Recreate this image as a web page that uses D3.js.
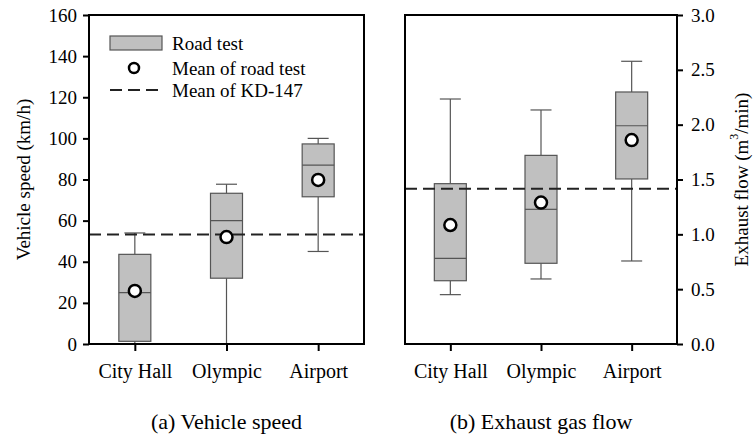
<!DOCTYPE html>
<html>
<head>
<meta charset="utf-8">
<script src="https://cdn.jsdelivr.net/npm/d3@7.9.0/dist/d3.min.js"></script>
<style>
  body { margin: 0; background: #fff; }
  svg { display: block; font-family: "Liberation Serif", "DejaVu Serif", serif; }
</style>
</head>
<body>
<svg id="chart" width="755" height="437"></svg>
<script>
// data
const categories = ["City Hall", "Olympic", "Airport"];

// (a) vehicle speed, km/h
const speedMin    = [0, 0, 45];
const speedQ1     = [1.3, 32, 71.6];
const speedMedian = [25, 60, 87];
const speedQ3     = [43.6, 73.3, 97.3];
const speedMax    = [54, 77.7, 100];
const speedMean   = [25.8, 52, 79.8];
const speedKD147  = 53.2;
const speedTicks  = [0, 20, 40, 60, 80, 100, 120, 140, 160];

// (b) exhaust flow, m3/min
const flowMin    = [0.45, 0.593, 0.757];
const flowQ1     = [0.577, 0.736, 1.505];
const flowMedian = [0.781, 1.228, 1.99];
const flowQ3     = [1.462, 1.72, 2.298];
const flowMax    = [2.234, 2.134, 2.578];
const flowMean   = [1.085, 1.29, 1.86];
const flowKD147  = 1.416;
const flowTicks  = [0, 0.5, 1.0, 1.5, 2.0, 2.5, 3.0];

const legendLabels = ["Road test", "Mean of road test", "Mean of KD-147"];

const svg = d3.select("#chart");
const plotTop = 15, plotBottom = 344;

function panel(opt) {
  const g = svg.append("g");
  const x = d3.scalePoint().domain(categories).range([opt.x0, opt.x1]).padding(0.5);
  const y = d3.scaleLinear().domain(opt.domain).range([plotBottom, plotTop]);

  const rows = categories.map((c, i) => ({
    c, min: opt.min[i], q1: opt.q1[i], med: opt.med[i], q3: opt.q3[i], max: opt.max[i], mean: opt.mean[i]
  }));

  const boxW = 32, capW = 21;
  const stroke = "#555";

  // whiskers
  const wk = g.append("g").attr("stroke", stroke).attr("stroke-width", 1.2);
  rows.forEach(d => {
    wk.append("line").attr("x1", x(d.c)).attr("x2", x(d.c)).attr("y1", y(d.q3)).attr("y2", y(d.max));
    wk.append("line").attr("x1", x(d.c)).attr("x2", x(d.c)).attr("y1", y(d.q1)).attr("y2", y(d.min));
    wk.append("line").attr("x1", x(d.c) - capW / 2).attr("x2", x(d.c) + capW / 2).attr("y1", y(d.max)).attr("y2", y(d.max));
    wk.append("line").attr("x1", x(d.c) - capW / 2).attr("x2", x(d.c) + capW / 2).attr("y1", y(d.min)).attr("y2", y(d.min));
  });

  // boxes
  g.selectAll("rect.box").data(rows).join("rect")
    .attr("class", "box")
    .attr("x", d => x(d.c) - boxW / 2)
    .attr("y", d => y(d.q3))
    .attr("width", boxW)
    .attr("height", d => y(d.q1) - y(d.q3))
    .attr("fill", "#c0c0c0")
    .attr("stroke", stroke)
    .attr("stroke-width", 1.2);

  g.selectAll("line.med").data(rows).join("line")
    .attr("class", "med")
    .attr("x1", d => x(d.c) - boxW / 2).attr("x2", d => x(d.c) + boxW / 2)
    .attr("y1", d => y(d.med)).attr("y2", d => y(d.med))
    .attr("stroke", stroke).attr("stroke-width", 1.2);

  // KD-147 mean
  g.append("line")
    .attr("x1", opt.x0).attr("x2", opt.x1)
    .attr("y1", y(opt.kd)).attr("y2", y(opt.kd))
    .attr("stroke", "#222").attr("stroke-width", 2)
    .attr("stroke-dasharray", "12,6");

  // means
  g.selectAll("circle.mean").data(rows).join("circle")
    .attr("class", "mean")
    .attr("cx", d => x(d.c)).attr("cy", d => y(d.mean))
    .attr("r", 6)
    .attr("fill", "#fff").attr("stroke", "#000").attr("stroke-width", 2.5);

  // frame
  g.append("rect")
    .attr("x", opt.x0).attr("y", plotTop)
    .attr("width", opt.x1 - opt.x0).attr("height", plotBottom - plotTop)
    .attr("fill", "none").attr("stroke", "#000").attr("stroke-width", 2);

  // axes
  const xa = g.append("g").attr("transform", `translate(0,${plotBottom})`)
    .call(d3.axisBottom(x).tickSize(7).tickPadding(13));
  xa.select(".domain").remove();
  xa.selectAll("line").attr("stroke", "#000").attr("stroke-width", 2);
  xa.selectAll("text").attr("font-size", 20).attr("fill", "#000")
    .attr("font-family", "Liberation Serif");

  const ya = opt.right
    ? g.append("g").attr("transform", `translate(${opt.x1},0)`)
        .call(d3.axisRight(y).tickValues(opt.ticks).tickFormat(d3.format(".1f")).tickSize(6).tickPadding(8))
    : g.append("g").attr("transform", `translate(${opt.x0},0)`)
        .call(d3.axisLeft(y).tickValues(opt.ticks).tickFormat(d3.format("d")).tickSize(6).tickPadding(6));
  ya.select(".domain").remove();
  ya.selectAll("line").attr("stroke", "#000").attr("stroke-width", 2);
  ya.selectAll("text").attr("font-size", 19).attr("fill", "#000")
    .attr("font-family", "Liberation Serif");

  // caption
  svg.append("text")
    .attr("x", (opt.x0 + opt.x1) / 2).attr("y", 429)
    .attr("text-anchor", "middle").attr("font-size", 22)
    .text(opt.caption);

  return { g, x, y };
}

panel({
  x0: 89, x1: 364, domain: [0, 160], ticks: speedTicks,
  min: speedMin, q1: speedQ1, med: speedMedian, q3: speedQ3, max: speedMax, mean: speedMean,
  kd: speedKD147, right: false, caption: "(a) Vehicle speed"
});

panel({
  x0: 405, x1: 677, domain: [0, 3], ticks: flowTicks,
  min: flowMin, q1: flowQ1, med: flowMedian, q3: flowQ3, max: flowMax, mean: flowMean,
  kd: flowKD147, right: true, caption: "(b) Exhaust gas flow"
});

// y labels
svg.append("text")
  .attr("transform", `translate(23,${(plotTop + plotBottom) / 2}) rotate(-90)`)
  .attr("text-anchor", "middle").attr("dominant-baseline", "central")
  .attr("font-size", 19)
  .text("Vehicle speed (km/h)");

const rl = svg.append("text")
  .attr("transform", `translate(741,${(plotTop + plotBottom) / 2}) rotate(-90)`)
  .attr("text-anchor", "middle").attr("dominant-baseline", "central")
  .attr("font-size", 19);
rl.append("tspan").text("Exhaust flow (m");
rl.append("tspan").attr("font-size", 12).attr("dy", -7).text("3");
rl.append("tspan").attr("dy", 7).text("/min)");

// legend
const lg = svg.append("g");
const legY = [43, 68, 90];
lg.append("rect").attr("x", 110).attr("y", 36).attr("width", 52).attr("height", 14)
  .attr("fill", "#c0c0c0").attr("stroke", "#555").attr("stroke-width", 1.2);
lg.append("circle").attr("cx", 134).attr("cy", legY[1]).attr("r", 5)
  .attr("fill", "#fff").attr("stroke", "#000").attr("stroke-width", 2.5);
lg.append("line").attr("x1", 110).attr("x2", 160).attr("y1", legY[2]).attr("y2", legY[2])
  .attr("stroke", "#222").attr("stroke-width", 2).attr("stroke-dasharray", "12,6");
lg.selectAll("text").data(legendLabels).join("text")
  .attr("x", 172).attr("y", (d, i) => legY[i])
  .attr("dominant-baseline", "central")
  .attr("font-size", 19)
  .text(d => d);
</script>
</body>
</html>
